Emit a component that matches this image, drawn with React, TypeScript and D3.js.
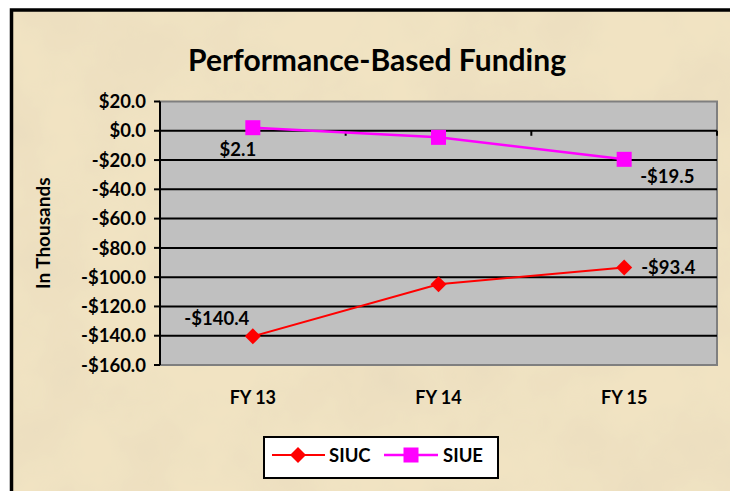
import { scaleBand, scaleLinear, line } from 'd3';
import { useEffect } from 'react';

const categories = ['FY 13', 'FY 14', 'FY 15'];
const siucValues = [-140.4, -104.8, -93.4];
const siueValues = [2.1, -4.5, -19.5];
const yTicks = [20, 0, -20, -40, -60, -80, -100, -120, -140, -160];

const WIDTH = 730;
const HEIGHT = 491;
const PLOT = { left: 160, right: 717, top: 101.5, bottom: 365 };
const FONT = 'Lato, "Open Sans", sans-serif';

// label offsets relative to each point (dx, dy, anchor)
const siucLabelPos = [
  { dx: -36, dy: -11, anchor: 'middle' },
  null,
  { dx: 17, dy: 6, anchor: 'start' },
];
const siueLabelPos = [
  { dx: -15, dy: 28, anchor: 'middle' },
  null,
  { dx: 16, dy: 24, anchor: 'start' },
];

function formatMoney(v: number) {
  return v < 0 ? `-$${Math.abs(v).toFixed(1)}` : `$${v.toFixed(1)}`;
}

export default function App() {
  useEffect(() => {
    document.body.style.margin = '0';
  }, []);

  const x = scaleBand<string>().domain(categories).range([PLOT.left, PLOT.right]).padding(0);
  const y = scaleLinear().domain([-160, 20]).range([PLOT.bottom, PLOT.top]);
  const cx = (c: string) => (x(c) ?? 0) + x.bandwidth() / 2;

  const pathGen = line<number>()
    .x((_, i) => cx(categories[i]))
    .y((d) => y(d));

  const boundaries = categories.map((c) => x(c) ?? 0).concat([PLOT.right]);

  return (
    <svg width={WIDTH} height={HEIGHT} style={{ display: 'block' }} fontFamily={FONT}>
      <defs>
        <filter id="parchment" x="0" y="0" width="100%" height="100%">
          <feTurbulence type="fractalNoise" baseFrequency="0.012" numOctaves="4" seed="7" result="noise" />
          <feColorMatrix
            in="noise"
            type="matrix"
            values="0 0 0 0 0.82  0 0 0 0 0.72  0 0 0 0 0.52  0 0 0 1.6 -0.55"
            result="tint"
          />
          <feComposite in="tint" in2="SourceGraphic" operator="in" result="spots" />
          <feMerge>
            <feMergeNode in="SourceGraphic" />
            <feMergeNode in="spots" />
          </feMerge>
        </filter>
      </defs>
      <rect width={WIDTH} height={HEIGHT} fill="#ffffff" />
      <rect x={11.5} y={10} width={WIDTH + 20} height={HEIGHT + 20} fill="#f1e3c2" filter="url(#parchment)" />
      <rect x={11.5} y={10} width={WIDTH + 20} height={HEIGHT + 20} fill="none" stroke="#000" strokeWidth={3.5} />

      <text x={377} y={71} textAnchor="middle" fontSize={30} fontWeight="bold" fill="#000">
        Performance-Based Funding
      </text>

      {/* plot area */}
      <rect
        x={PLOT.left}
        y={PLOT.top}
        width={PLOT.right - PLOT.left}
        height={PLOT.bottom - PLOT.top}
        fill="#c0c0c0"
        stroke="#7f7f7f"
        strokeWidth={2}
      />
      {yTicks
        .filter((t) => t !== 20 && t !== -160)
        .map((t) => (
          <line key={`g${t}`} x1={PLOT.left} x2={PLOT.right} y1={y(t)} y2={y(t)} stroke="#000" strokeWidth={2} />
        ))}

      {/* x axis at zero */}
      {boundaries.map((b, i) => (
        <line key={`xt${i}`} x1={b} x2={b} y1={y(0)} y2={y(0) + 5} stroke="#000" strokeWidth={2} />
      ))}

      {/* y axis */}
      <line x1={PLOT.left} x2={PLOT.left} y1={PLOT.top} y2={PLOT.bottom} stroke="#000" strokeWidth={2} />
      {yTicks.map((t) => (
        <g key={`yt${t}`}>
          <line x1={PLOT.left - 6} x2={PLOT.left} y1={y(t)} y2={y(t)} stroke="#000" strokeWidth={2} />
          <text x={PLOT.left - 14} y={y(t)} dy="0.36em" textAnchor="end" fontSize={18.5} fontWeight="bold" fill="#000">
            {formatMoney(t)}
          </text>
        </g>
      ))}
      <text
        transform={`translate(50 ${(PLOT.top + PLOT.bottom) / 2}) rotate(-90)`}
        textAnchor="middle"
        fontSize={19}
        fontWeight="bold"
        fill="#000"
      >
        In Thousands
      </text>

      {categories.map((c) => (
        <text key={c} x={cx(c)} y={404} textAnchor="middle" fontSize={18} fontWeight="bold" fill="#000">
          {c}
        </text>
      ))}

      {/* SIUE */}
      <path d={pathGen(siueValues) ?? ''} fill="none" stroke="#ff00ff" strokeWidth={2.5} />
      {siueValues.map((v, i) => (
        <rect key={`se${i}`} x={cx(categories[i]) - 7.5} y={y(v) - 7.5} width={15} height={15} fill="#ff00ff" />
      ))}

      {/* SIUC */}
      <path d={pathGen(siucValues) ?? ''} fill="none" stroke="#ff0000" strokeWidth={2} />
      {siucValues.map((v, i) => (
        <path
          key={`sc${i}`}
          transform={`translate(${cx(categories[i])} ${y(v)})`}
          d="M0,-8L8,0L0,8L-8,0Z"
          fill="#ff0000"
        />
      ))}

      {/* data labels */}
      {siueValues.map((v, i) => {
        const p = siueLabelPos[i];
        if (!p) return null;
        return (
          <text
            key={`sel${i}`}
            x={cx(categories[i]) + p.dx}
            y={y(v) + p.dy}
            textAnchor={p.anchor}
            fontSize={18.5}
            fontWeight="bold"
            fill="#000"
          >
            {formatMoney(v)}
          </text>
        );
      })}
      {siucValues.map((v, i) => {
        const p = siucLabelPos[i];
        if (!p) return null;
        return (
          <text
            key={`scl${i}`}
            x={cx(categories[i]) + p.dx}
            y={y(v) + p.dy}
            textAnchor={p.anchor}
            fontSize={18.5}
            fontWeight="bold"
            fill="#000"
          >
            {formatMoney(v)}
          </text>
        );
      })}

      {/* legend */}
      <g>
        <rect x={264} y={437} width={234} height={41} fill="#fff" stroke="#000" strokeWidth={2} />
        <line x1={272} x2={325} y1={455} y2={455} stroke="#ff0000" strokeWidth={2} />
        <path transform="translate(298 455)" d="M0,-8L8,0L0,8L-8,0Z" fill="#ff0000" />
        <text x={329} y={462} fontSize={18.5} fontWeight="bold" fill="#000">
          SIUC
        </text>
        <line x1={384} x2={438} y1={455} y2={455} stroke="#ff00ff" strokeWidth={2.5} />
        <rect x={403.5} y={447.5} width={15} height={15} fill="#ff00ff" />
        <text x={443} y={462} fontSize={18.5} fontWeight="bold" fill="#000">
          SIUE
        </text>
      </g>
    </svg>
  );
}
